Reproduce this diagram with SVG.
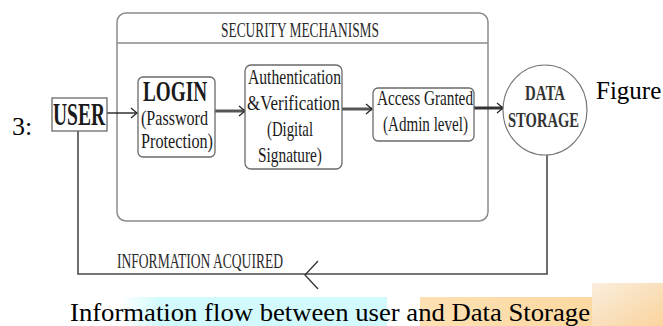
<svg xmlns="http://www.w3.org/2000/svg" width="663" height="326" viewBox="0 0 663 326">
<style>
.box{fill:#fff;stroke:#6a6a6a;stroke-width:1.3}
text{font-family:'Liberation Serif','Times New Roman',Tinos,'DejaVu Serif',serif;fill:#1a1a1a}
.ln{fill:none;stroke:#4a4a4a;stroke-width:1.6}
.thick{fill:none;stroke:#555;stroke-width:3}
.head{fill:none;stroke:#222;stroke-width:1.2}
</style>
<defs>
<linearGradient id="cy" x1="0" x2="1" y1="0" y2="0">
<stop offset="0" stop-color="#d2fafc" stop-opacity="0"/>
<stop offset="0.15" stop-color="#d2fafc" stop-opacity="1"/>
<stop offset="1" stop-color="#d2fafc" stop-opacity="1"/>
</linearGradient>
<linearGradient id="or" x1="0" x2="1" y1="0" y2="0">
<stop offset="0" stop-color="#fde0b2"/>
<stop offset="1" stop-color="#fcd9a2"/>
</linearGradient>
<linearGradient id="or2" x1="0" x2="1" y1="0" y2="1">
<stop offset="0" stop-color="#fbeedd"/>
<stop offset="0.5" stop-color="#f9e0bd"/>
<stop offset="1" stop-color="#fbd49c"/>
</linearGradient>
</defs>
<rect width="663" height="326" fill="#fff"/>
<g id="background">
<rect x="120" y="297" width="267" height="29" fill="url(#cy)"/>
<rect x="420" y="297" width="172" height="29" fill="url(#or)"/>
<rect x="592" y="283" width="71" height="43" fill="url(#or2)"/>
</g>
<g id="container">
<rect x="117" y="13" width="371" height="208" rx="9" fill="none" stroke="#8a8a8a" stroke-width="1.5"/>
<line x1="117" y1="43" x2="488" y2="43" stroke="#8a8a8a" stroke-width="1.5"/>
<text x="221" y="36.5" font-size="21" textLength="158" lengthAdjust="spacingAndGlyphs" style="fill:#2a2a2a">SECURITY MECHANISMS</text>
</g>
<g id="connectors">
<line x1="107" y1="113" x2="137" y2="113" stroke="#111" stroke-width="1.3"/>
<polyline class="head" points="131,108 137,113 131,118"/>
<line class="thick" x1="215" y1="111" x2="245" y2="111"/>
<polyline class="head" points="239,106 245,111 239,116"/>
<line class="thick" x1="342" y1="109" x2="372" y2="109"/>
<polyline class="head" points="366,104 372,109 366,114"/>
<line class="thick" x1="474" y1="108" x2="503" y2="108" style="stroke:#333"/>
<polyline class="head" points="497,103 503,108 497,113"/>
<polyline class="ln" points="547,155 547,274 78,274 78,131"/>
<polyline points="318,261 305,275 318,289" fill="none" stroke="#333" stroke-width="1.3"/>
<text x="117" y="268" font-size="20" textLength="166" lengthAdjust="spacingAndGlyphs" style="fill:#2a2a2a">INFORMATION ACQUIRED</text>
</g>
<g id="user">
<rect class="box" x="52" y="98" width="55" height="33"/>
<text x="53" y="125" font-size="31" font-weight="bold" textLength="52" lengthAdjust="spacingAndGlyphs">USER</text>
</g>
<g id="login">
<rect class="box" x="138" y="77" width="77" height="80" rx="5"/>
<text x="143" y="101" font-size="29" font-weight="bold" textLength="64" lengthAdjust="spacingAndGlyphs">LOGIN</text>
<text x="141" y="125" font-size="22" textLength="67" lengthAdjust="spacingAndGlyphs">(Password</text>
<text x="141" y="148" font-size="22" textLength="72" lengthAdjust="spacingAndGlyphs">Protection)</text>
</g>
<g id="auth">
<rect class="box" x="245" y="65" width="97" height="104" rx="6"/>
<text x="248" y="84" font-size="22" textLength="93" lengthAdjust="spacingAndGlyphs">Authentication</text>
<text x="247" y="110" font-size="22" textLength="93" lengthAdjust="spacingAndGlyphs">&amp;Verification</text>
<text x="267" y="136" font-size="22" textLength="46" lengthAdjust="spacingAndGlyphs">(Digital</text>
<text x="258" y="162" font-size="22" textLength="64" lengthAdjust="spacingAndGlyphs">Signature)</text>
</g>
<g id="access">
<rect class="box" x="373" y="88" width="101" height="53" rx="5"/>
<text x="377" y="105" font-size="21" textLength="96" lengthAdjust="spacingAndGlyphs">Access Granted</text>
<text x="383" y="131" font-size="21" textLength="85" lengthAdjust="spacingAndGlyphs">(Admin level)</text>
</g>
<g id="datastorage">
<ellipse cx="545" cy="110" rx="42" ry="45" fill="#fff" stroke="#777" stroke-width="1.2"/>
<text x="525" y="100" font-size="22" font-weight="bold" textLength="40" lengthAdjust="spacingAndGlyphs" style="fill:#333">DATA</text>
<text x="508" y="127" font-size="22" font-weight="bold" textLength="71" lengthAdjust="spacingAndGlyphs" style="fill:#333">STORAGE</text>
</g>
<g id="caption">
<text x="596" y="99" font-size="25" style="fill:#000">Figure</text>
<text x="12" y="135" font-size="26" style="fill:#000">3:</text>
<text x="70" y="321" font-size="26" textLength="520" lengthAdjust="spacingAndGlyphs" style="fill:#000">Information flow between user and Data Storage</text>
</g>
</svg>
